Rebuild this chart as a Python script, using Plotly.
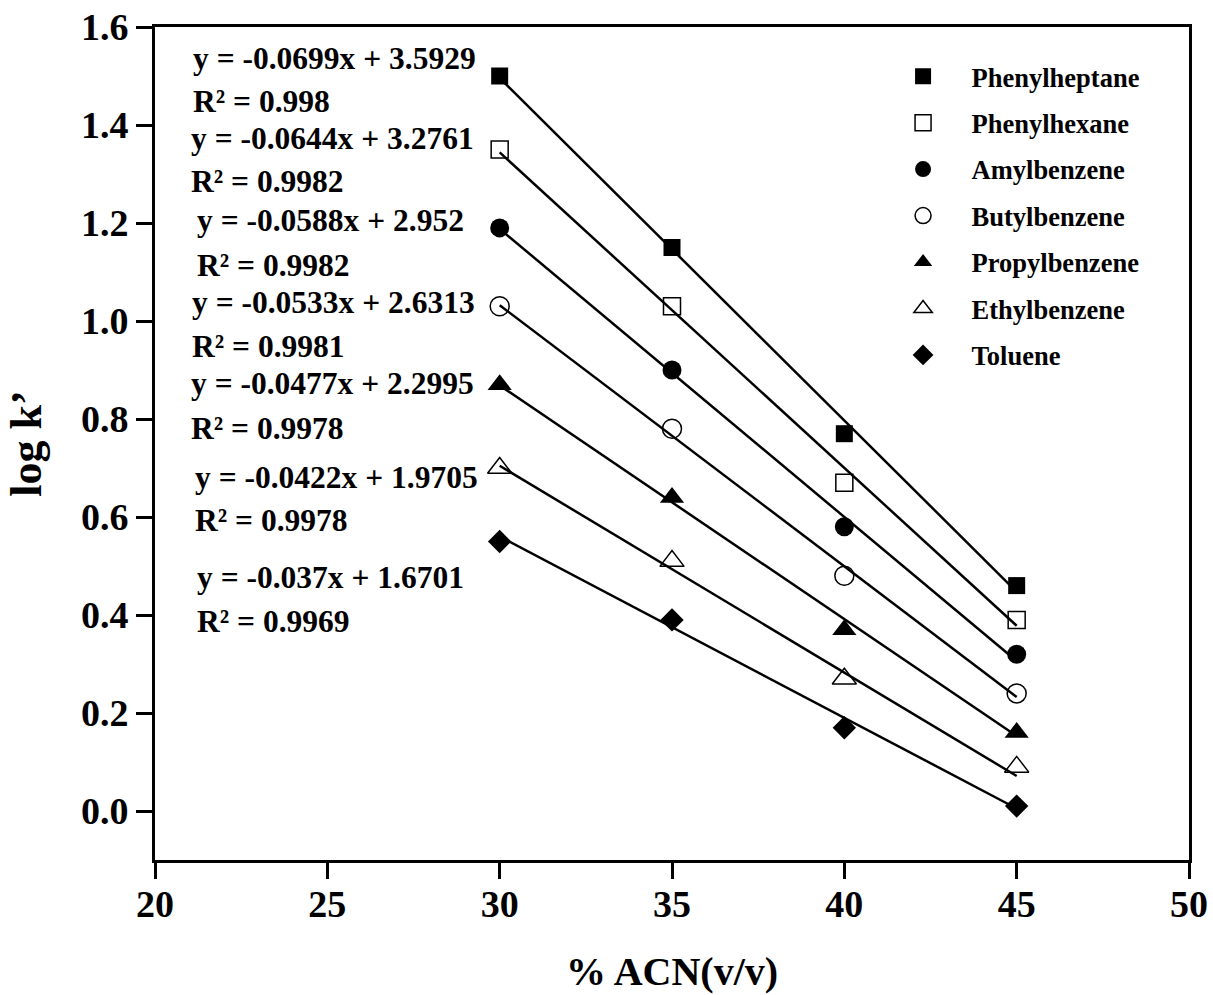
import plotly.graph_objects as go

# ---------------- data ----------------
acn = [30, 35, 40, 45]

names = ["Phenylheptane", "Phenylhexane", "Amylbenzene", "Butylbenzene",
         "Propylbenzene", "Ethylbenzene", "Toluene"]

phenylheptane = [1.50, 1.15, 0.77, 0.46]
phenylhexane = [1.35, 1.03, 0.67, 0.39]
amylbenzene = [1.19, 0.90, 0.58, 0.32]
butylbenzene = [1.03, 0.78, 0.48, 0.24]
propylbenzene = [0.87, 0.64, 0.37, 0.16]
ethylbenzene = [0.70, 0.51, 0.27, 0.09]
toluene = [0.55, 0.39, 0.17, 0.01]

slopes = [-0.0699, -0.0644, -0.0588, -0.0533, -0.0477, -0.0422, -0.037]
intercepts = [3.5929, 3.2761, 2.952, 2.6313, 2.2995, 1.9705, 1.6701]
r2_values = ["0.998", "0.9982", "0.9982", "0.9981", "0.9978", "0.9978", "0.9969"]
eq_labels = ["y = -0.0699x + 3.5929", "y = -0.0644x + 3.2761", "y = -0.0588x + 2.952",
             "y = -0.0533x + 2.6313", "y = -0.0477x + 2.2995", "y = -0.0422x + 1.9705",
             "y = -0.037x + 1.6701"]

x_ticks = [20, 25, 30, 35, 40, 45, 50]
y_ticks = [0.0, 0.2, 0.4, 0.6, 0.8, 1.0, 1.2, 1.4, 1.6]

series = [phenylheptane, phenylhexane, amylbenzene, butylbenzene,
          propylbenzene, ethylbenzene, toluene]

# ---------------- styles ----------------
FONT = "Liberation Serif"
symbols = ["square", "square-open", "circle", "circle-open",
           "triangle-up", "triangle-up-open", "diamond"]
sizes = [17, 17, 19, 19, 21, 21, 18]

# annotation anchor positions (data coords): (x, eq_y, r2_y)
ann_pos = [(21.05, 1.536, 1.447), (20.98, 1.373, 1.285), (21.16, 1.206, 1.114),
           (21.01, 1.038, 0.948), (20.98, 0.873, 0.780), (21.10, 0.681, 0.592),
           (21.16, 0.477, 0.386)]

fig = go.Figure()

# markers (drawn first so that fit lines lie on top)
for i, (nm, ys) in enumerate(zip(names, series)):
    fig.add_trace(go.Scatter(
        x=acn, y=ys, mode="markers", name=nm, legendgroup=nm,
        marker=dict(symbol=symbols[i], size=sizes[i], color="black",
                    line=dict(color="black", width=1.5 if "open" in symbols[i] else 0)),
    ))

# linear fit lines from the reported equations
for i, nm in enumerate(names):
    xs = [acn[0], acn[-1]]
    ys = [slopes[i] * xv + intercepts[i] for xv in xs]
    fig.add_trace(go.Scatter(
        x=xs, y=ys, mode="lines", showlegend=False, legendgroup=nm,
        line=dict(color="black", width=2.5), hoverinfo="skip",
    ))

annotations = []
for i in range(len(names)):
    ax, ey, ry = ann_pos[i]
    annotations.append(dict(x=ax, y=ey, xref="x", yref="y", text=eq_labels[i],
                            showarrow=False, xanchor="left", yanchor="middle",
                            font=dict(family=FONT, size=31.5, color="black", weight="bold")))
    annotations.append(dict(x=ax, y=ry, xref="x", yref="y", text="R² = " + r2_values[i],
                            showarrow=False, xanchor="left", yanchor="middle",
                            font=dict(family=FONT, size=31.5, color="black", weight="bold")))

fig.update_layout(
    width=1213, height=995,
    margin=dict(l=155, r=24, t=27, b=135, pad=0, autoexpand=False),
    paper_bgcolor="white", plot_bgcolor="white",
    font=dict(family=FONT, color="black"),
    annotations=annotations,
    showlegend=True,
    legend=dict(
        x=0.6959, y=0.9694, xanchor="left", yanchor="top",
        bgcolor="rgba(0,0,0,0)", borderwidth=0,
        font=dict(family=FONT, size=26.5, color="black", weight="bold"),
        tracegroupgap=9, itemwidth=87,
    ),
    xaxis=dict(
        range=[20, 50], tickvals=x_ticks, ticktext=[str(v) for v in x_ticks],
        showgrid=False, zeroline=False, automargin=False,
        showline=True, linecolor="black", linewidth=3, mirror=True,
        ticks="outside", ticklen=16, tickwidth=3, tickcolor="black",
        ticklabelstandoff=-8,
        tickfont=dict(family=FONT, size=38, color="black", weight="bold"),
        title=dict(text="% ACN(v/v)", standoff=34,
                   font=dict(family=FONT, size=40, color="black", weight="bold")),
    ),
    yaxis=dict(
        range=[-0.1, 1.6], tickvals=y_ticks, ticktext=[f"{v:.1f}" for v in y_ticks],
        showgrid=False, zeroline=False, automargin=False,
        showline=True, linecolor="black", linewidth=3, mirror=True,
        ticks="outside", ticklen=16, tickwidth=3, tickcolor="black",
        tickfont=dict(family=FONT, size=38, color="black", weight="bold"),
        title=dict(text="log k’", standoff=26,
                   font=dict(family=FONT, size=44, color="black", weight="bold")),
    ),
)

fig.write_html("out.html")
